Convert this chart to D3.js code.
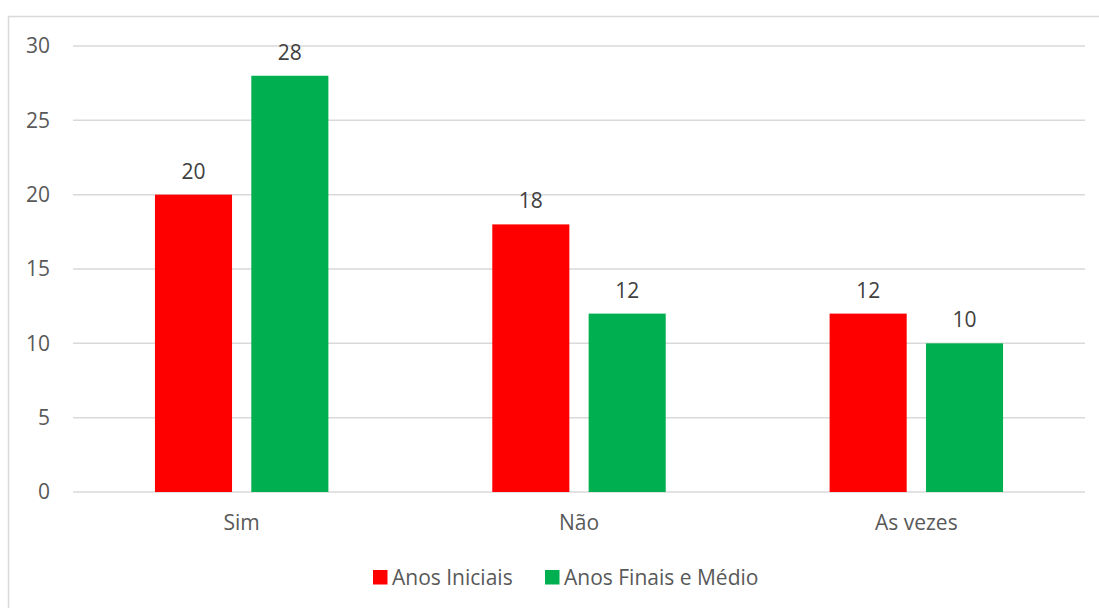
<!DOCTYPE html>
<html><head><meta charset="utf-8">
<script src="https://cdn.jsdelivr.net/npm/d3@7"></script>
<style>body{margin:0;background:#fff}svg{display:block}text{font-family:"Open Sans",sans-serif}</style>
</head><body>
<svg id="c" width="1099" height="608"></svg>
<script>
const categories = ["Sim", "Não", "As vezes"];
const seriesNames = ["Anos Iniciais", "Anos Finais e Médio"];
const anosIniciais = [20, 18, 12];
const anosFinais = [28, 12, 10];
const yTicks = [0, 5, 10, 15, 20, 25, 30];
const colors = ["#ff0000", "#00b050"];

const svg = d3.select("#c");
// frame
svg.append("path").attr("d","M8.5,608 V16.5 H1099").attr("fill","none").attr("stroke","#d9d9d9").attr("stroke-width",1.5);

const mLeft = 73, mRight = 1085, mTop = 46, mBottom = 492;
const x = d3.scaleBand().domain(categories).range([mLeft, mRight]).paddingInner(0).paddingOuter(0);
const y = d3.scaleLinear().domain([0, 30]).range([mBottom, mTop]);

const g = svg.append("g");
// gridlines
g.selectAll("line.grid").data(yTicks).join("line")
  .attr("x1", mLeft).attr("x2", mRight)
  .attr("y1", d => y(d)).attr("y2", d => y(d))
  .attr("stroke", "#d9d9d9").attr("stroke-width", 1.5);

const fs = 21;
// y axis labels
const yAxis = d3.axisLeft(y).tickValues(yTicks).tickSize(0).tickPadding(0);
const ya = svg.append("g").attr("transform", `translate(50,0)`).call(yAxis);
ya.select(".domain").remove();
ya.selectAll("text").attr("font-size", fs).attr("fill", "#595959").attr("font-family", "Open Sans");

// x axis labels
const xAxis = d3.axisBottom(x).tickSize(0).tickPadding(0);
const xa = svg.append("g").attr("transform", `translate(0,${mBottom + 23})`).call(xAxis);
xa.select(".domain").remove();
xa.selectAll("text").attr("font-size", fs).attr("fill", "#595959").attr("font-family", "Open Sans");

const bw = x.bandwidth() * 0.2285;
const gap = bw * 0.25;
const data = [anosIniciais, anosFinais];
const xs = d3.scaleOrdinal().domain([0,1]).range([-gap/2 - bw, gap/2]);

data.forEach((vals, si) => {
  const gg = svg.append("g");
  gg.selectAll("rect").data(vals).join("rect")
    .attr("x", (d, i) => x(categories[i]) + x.bandwidth()/2 + xs(si))
    .attr("width", bw)
    .attr("y", d => y(d))
    .attr("height", d => y(0) - y(d))
    .attr("fill", colors[si]);
  gg.selectAll("text").data(vals).join("text")
    .attr("x", (d, i) => x(categories[i]) + x.bandwidth()/2 + xs(si) + bw/2)
    .attr("y", d => y(d) - 16)
    .attr("text-anchor", "middle")
    .attr("font-size", fs).attr("fill", "#404040")
    .text(d => d);
});

// legend
const leg = svg.append("g");
const legX = [373, 545];
seriesNames.forEach((n, i) => {
  leg.append("rect").attr("x", legX[i]).attr("y", 570).attr("width", 14.5).attr("height", 14.5).attr("fill", colors[i]);
  leg.append("text").attr("x", legX[i] + 19).attr("y", 585).attr("font-size", fs).attr("fill", "#595959").text(n);
});
</script>
</body></html>
